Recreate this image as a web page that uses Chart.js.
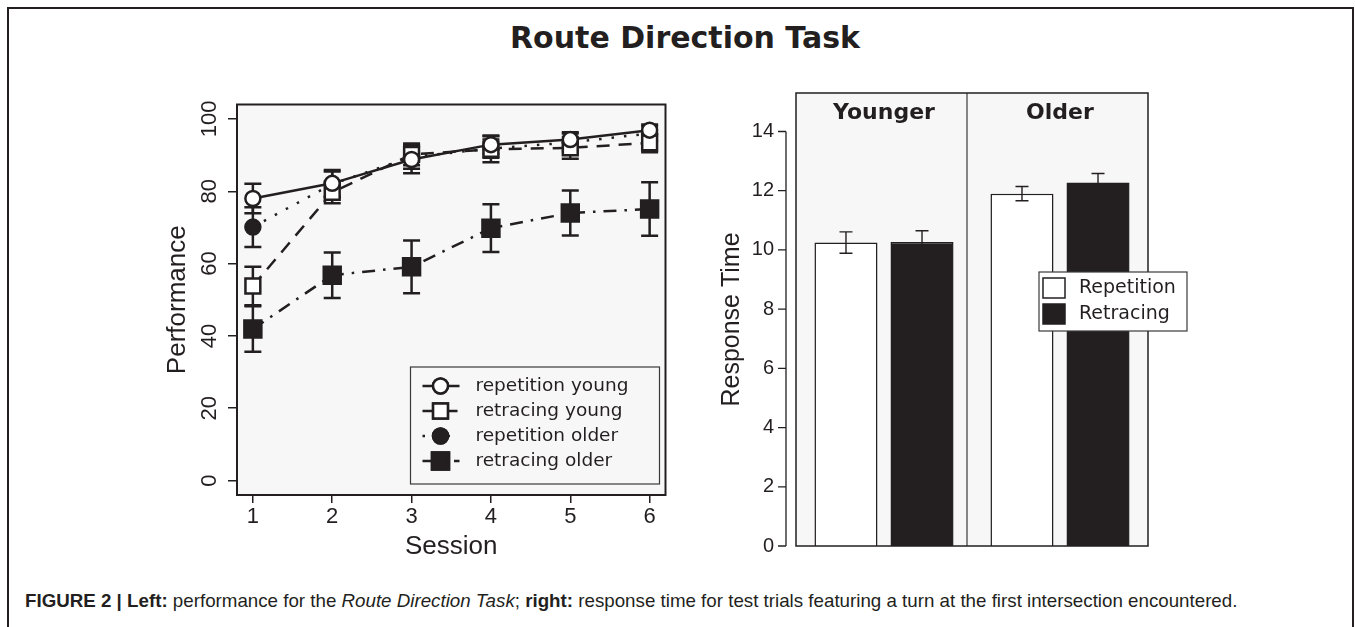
<!DOCTYPE html>
<html><head><meta charset="utf-8">
<script src="https://cdn.jsdelivr.net/npm/chart.js@4.4.1/dist/chart.umd.min.js"></script>
<style>
html,body{margin:0;padding:0;background:#fff;width:1355px;height:627px;overflow:hidden;position:relative;}
#frame{position:absolute;left:7px;top:7px;width:1347px;height:700px;border:2px solid #231f20;box-sizing:border-box;}
#title{position:absolute;left:0;width:1370px;top:20px;text-align:center;font:bold 30px "DejaVu Sans";color:#231f20;white-space:nowrap;}
#caption{position:absolute;left:25px;top:590px;font:15px "Liberation Sans";color:#231f20;white-space:nowrap;}
canvas{position:absolute;}
#c1{left:150px;top:90px;}
#c2{left:690px;top:80px;}
</style></head><body>
<div id="frame"></div>
<div id="title">Route Direction Task</div>
<canvas id="c1" width="530" height="480"></canvas>
<canvas id="c2" width="520" height="480"></canvas>
<div id="caption"><b>FIGURE 2 | Left:</b> performance for the <i>Route Direction Task</i>; <b>right:</b> response time for test trials featuring a turn at the first intersection encountered.</div>
<script>
// ---------- Left panel data ----------
const sessions = [1, 2, 3, 4, 5, 6];
const seriesNames = ['repetition young', 'retracing young', 'repetition older', 'retracing older'];
const repYoung    = [78.0, 82.2, 88.8, 92.9, 94.3, 96.9];
const repYoungErr = [4.1, 3.7, 3.8, 2.5, 2.0, 1.6];
const retYoung    = [53.8, 79.7, 90.2, 91.6, 92.0, 93.4];
const retYoungErr = [5.3, 3.0, 3.0, 3.6, 3.0, 2.6];
const repOlder    = [70.1, 82.0, 89.5, 91.8, 93.5, 96.0];
const repOlderErr = [5.5, 3.5, 3.3, 2.5, 2.5, 2.0];
const retOlder    = [41.9, 56.8, 59.1, 69.8, 74.0, 75.1];
const retOlderErr = [6.3, 6.3, 7.3, 6.6, 6.2, 7.4];
const perfTicks = [0, 20, 40, 60, 80, 100];

// ---------- Right panel data ----------
const groups = ['Younger', 'Older'];
const conditions = ['Repetition', 'Retracing'];
const rtRepetition    = [10.25, 11.90];
const rtRepetitionErr = [0.36, 0.24];
const rtRetracing     = [10.27, 12.28];
const rtRetracingErr  = [0.38, 0.30];
const rtTicks = [0, 2, 4, 6, 8, 10, 12, 14];

const INK = '#231f20';
const BG = '#f7f7f7';

// ---------- Left chart ----------
const values = [repYoung, retYoung, repOlder, retOlder];
const errs = [repYoungErr, retYoungErr, repOlderErr, retOlderErr];
const lineStyles = [
  {dash: [], point: 'circle', radius: 7.5, fill: '#ffffff'},
  {dash: [13, 9], point: 'rect', radius: 10.5, fill: '#ffffff'},
  {dash: [2.5, 10], point: 'circle', radius: 7.5, fill: INK},
  {dash: [13, 8, 2.5, 8], point: 'rect', radius: 12, fill: INK}
];

const leftDatasets = values.map((vals, k) => ({
  label: seriesNames[k],
  data: sessions.map((s, i) => ({x: s, y: vals[i]})),
  borderColor: INK,
  borderWidth: 2.5,
  borderDash: lineStyles[k].dash,
  pointStyle: lineStyles[k].point,
  pointRadius: lineStyles[k].radius,
  pointBackgroundColor: lineStyles[k].fill,
  pointBorderColor: INK,
  pointBorderWidth: 2.5,
  tension: 0,
  fill: false
}));

const leftPlugin = {
  id: 'leftDecor',
  beforeDraw(chart) {
    const {ctx, chartArea: ca} = chart;
    ctx.save();
    ctx.fillStyle = BG;
    ctx.fillRect(ca.left, ca.top, ca.right - ca.left, ca.bottom - ca.top);
    ctx.restore();
  },
  beforeDatasetsDraw(chart) {
    const {ctx, scales: {x, y}} = chart;
    ctx.save();
    ctx.strokeStyle = INK;
    ctx.lineWidth = 2.5;
    ctx.setLineDash([]);
    for (let k = values.length - 1; k >= 0; k--) {
      sessions.forEach((s, i) => {
        const px = x.getPixelForValue(s);
        const yt = y.getPixelForValue(values[k][i] + errs[k][i]);
        const yb = y.getPixelForValue(values[k][i] - errs[k][i]);
        ctx.beginPath();
        ctx.moveTo(px, yt); ctx.lineTo(px, yb);
        ctx.moveTo(px - 8.5, yt); ctx.lineTo(px + 8.5, yt);
        ctx.moveTo(px - 8.5, yb); ctx.lineTo(px + 8.5, yb);
        ctx.stroke();
      });
    }
    ctx.restore();
  },
  afterDraw(chart) {
    const {ctx, chartArea: ca} = chart;
    ctx.save();
    // legend
    const lx0 = ca.right - 255, ly0 = ca.bottom - 128, lw = 249, lh = 117;
    ctx.fillStyle = BG;
    ctx.fillRect(lx0, ly0, lw, lh);
    ctx.strokeStyle = '#3a3a3a';
    ctx.lineWidth = 1.2;
    ctx.strokeRect(lx0, ly0, lw, lh);
    seriesNames.forEach((name, k) => {
      const cy = ly0 + 19 + k * 25;
      const st = lineStyles[k];
      ctx.strokeStyle = INK;
      ctx.lineWidth = 2.5;
      ctx.setLineDash(st.dash);
      ctx.beginPath();
      ctx.moveTo(lx0 + 12, cy); ctx.lineTo(lx0 + 49, cy);
      ctx.stroke();
      ctx.setLineDash([]);
      Chart.helpers.drawPoint(ctx, {pointStyle: st.point, radius: st.radius, borderWidth: 2.5}, lx0 + 30, cy);
      ctx.fillStyle = st.fill;
      ctx.fill();
      ctx.stroke();
      ctx.fillStyle = INK;
      ctx.font = '18.5px "DejaVu Sans"';
      ctx.textBaseline = 'middle';
      ctx.textAlign = 'left';
      ctx.fillText(name, lx0 + 65, cy);
    });
    // box
    ctx.strokeStyle = INK;
    ctx.lineWidth = 2;
    ctx.strokeRect(ca.left, ca.top, ca.right - ca.left, ca.bottom - ca.top);
    ctx.restore();
  }
};

new Chart(document.getElementById('c1'), {
  type: 'line',
  data: {datasets: leftDatasets},
  options: {
    responsive: false,
    animation: false,
    events: [],
    layout: {padding: {left: 12, right: 14, top: 12, bottom: 8}},
    plugins: {legend: {display: false}, tooltip: {enabled: false}},
    scales: {
      x: {
        type: 'linear', min: 0.8, max: 6.2,
        afterBuildTicks: s => { s.ticks = sessions.map(v => ({value: v})); },
        grid: {drawOnChartArea: false, tickLength: 8, color: INK, lineWidth: 1.5},
        border: {display: false},
        ticks: {font: {family: 'Liberation Sans', size: 22}, color: INK, padding: 1, autoSkip: false, maxRotation: 0,
                callback: v => String(v)},
        title: {display: true, text: 'Session', font: {family: 'Liberation Sans', size: 26}, color: INK, padding: 0},
        afterFit: s => { s.height = 67; s.paddingLeft = 0; s.paddingRight = 0; }
      },
      y: {
        type: 'linear', min: -4, max: 104,
        afterBuildTicks: s => { s.ticks = perfTicks.map(v => ({value: v})); },
        grid: {drawOnChartArea: false, tickLength: 9, color: INK, lineWidth: 1.5},
        border: {display: false},
        ticks: {font: {family: 'Liberation Sans', size: 22}, color: INK, padding: 0, minRotation: 90, maxRotation: 90,
                crossAlign: 'center', callback: v => String(v)},
        title: {display: true, text: 'Performance', font: {family: 'Liberation Sans', size: 26}, color: INK, padding: 0},
        afterFit: s => { s.width = 75; s.paddingTop = 0; s.paddingBottom = 0; }
      }
    }
  },
  plugins: [leftPlugin]
});

// ---------- Right chart ----------
const rtVals = [rtRepetition, rtRetracing];
const rtErrs = [rtRepetitionErr, rtRetracingErr];
const barFills = ['#ffffff', INK];

const rightPlugin = {
  id: 'rightDecor',
  beforeDraw(chart) {
    const {ctx, chartArea: ca} = chart;
    ctx.save();
    ctx.fillStyle = BG;
    ctx.fillRect(ca.left, ca.top, ca.right - ca.left, ca.bottom - ca.top);
    ctx.restore();
  },
  afterDatasetsDraw(chart) {
    const {ctx, scales: {y}} = chart;
    ctx.save();
    ctx.strokeStyle = INK;
    ctx.lineWidth = 1.4;
    rtVals.forEach((vals, d) => {
      const meta = chart.getDatasetMeta(d);
      vals.forEach((v, i) => {
        const px = meta.data[i].x;
        const yt = y.getPixelForValue(v + rtErrs[d][i]);
        const yb = y.getPixelForValue(v - rtErrs[d][i]);
        ctx.beginPath();
        ctx.moveTo(px, yt); ctx.lineTo(px, yb);
        ctx.moveTo(px - 6.5, yt); ctx.lineTo(px + 6.5, yt);
        ctx.moveTo(px - 6.5, yb); ctx.lineTo(px + 6.5, yb);
        ctx.stroke();
      });
    });
    ctx.restore();
  },
  afterDraw(chart) {
    const {ctx, chartArea: ca, scales: {x, y}} = chart;
    ctx.save();
    // divider between panels
    const xd = (x.getPixelForTick(0) + x.getPixelForTick(1)) / 2 - 5;
    ctx.strokeStyle = '#3a3a3a';
    ctx.lineWidth = 1.2;
    ctx.beginPath();
    ctx.moveTo(xd, ca.top); ctx.lineTo(xd, ca.bottom);
    ctx.stroke();
    // box
    ctx.strokeStyle = INK;
    ctx.lineWidth = 1.5;
    ctx.strokeRect(ca.left, ca.top, ca.right - ca.left, ca.bottom - ca.top);
    // panel labels
    ctx.fillStyle = INK;
    ctx.font = 'bold 22px "DejaVu Sans"';
    ctx.textAlign = 'center';
    ctx.textBaseline = 'middle';
    groups.forEach((g, i) => ctx.fillText(g, x.getPixelForTick(i), ca.top + 20));
    // detached y axis line and tick marks
    const ax = ca.left - 10;
    ctx.lineWidth = 1.3;
    ctx.beginPath();
    ctx.moveTo(ax, y.getPixelForValue(rtTicks[0]));
    ctx.lineTo(ax, y.getPixelForValue(rtTicks[rtTicks.length - 1]));
    rtTicks.forEach(t => {
      const py = y.getPixelForValue(t);
      ctx.moveTo(ax - 8, py); ctx.lineTo(ax, py);
    });
    ctx.stroke();
    // legend
    const lx0 = ca.right - 109, ly0 = ca.top + 179, lw = 148, lh = 59;
    ctx.fillStyle = '#ffffff';
    ctx.fillRect(lx0, ly0, lw, lh);
    ctx.strokeStyle = '#3a3a3a';
    ctx.lineWidth = 1.2;
    ctx.strokeRect(lx0, ly0, lw, lh);
    conditions.forEach((c, k) => {
      const cy = ly0 + 16 + k * 26;
      ctx.fillStyle = barFills[k];
      ctx.fillRect(lx0 + 4, cy - 10, 22, 20);
      ctx.strokeStyle = INK;
      ctx.lineWidth = 1.5;
      ctx.strokeRect(lx0 + 4, cy - 10, 22, 20);
      ctx.fillStyle = INK;
      ctx.font = '19px "DejaVu Sans"';
      ctx.textAlign = 'left';
      ctx.textBaseline = 'middle';
      ctx.fillText(c, lx0 + 40, cy);
    });
    ctx.restore();
  }
};

new Chart(document.getElementById('c2'), {
  type: 'bar',
  data: {
    labels: groups,
    datasets: conditions.map((c, d) => ({
      label: c,
      data: rtVals[d],
      backgroundColor: barFills[d],
      borderColor: INK,
      borderWidth: 1.5
    }))
  },
  options: {
    responsive: false,
    animation: false,
    events: [],
    datasets: {bar: {categoryPercentage: 0.864, barPercentage: 0.829}},
    layout: {padding: {left: 27, right: 62, top: 13, bottom: 14}},
    plugins: {legend: {display: false}, tooltip: {enabled: false}},
    scales: {
      x: {display: false},
      y: {
        min: 0, max: 15.3,
        afterBuildTicks: s => { s.ticks = rtTicks.map(v => ({value: v})); },
        grid: {display: false, drawTicks: false},
        border: {display: false},
        ticks: {font: {family: 'Liberation Sans', size: 20}, color: INK, padding: 22, callback: v => String(v)},
        title: {display: true, text: 'Response Time', font: {family: 'Liberation Sans', size: 25}, color: INK, padding: 0},
        afterFit: s => { s.width = 79; s.paddingTop = 0; s.paddingBottom = 0; }
      }
    }
  },
  plugins: [rightPlugin]
});

// fit caption font size to the reference span
(function () {
  const cap = document.getElementById('caption');
  const w = cap.getBoundingClientRect().width;
  cap.style.fontSize = (15 * 1213 / w).toFixed(2) + 'px';
})();
</script>
</body></html>
